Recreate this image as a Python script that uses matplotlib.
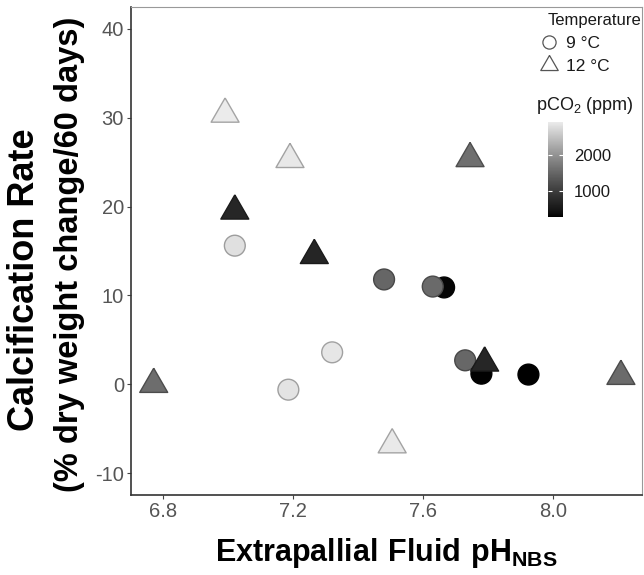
import numpy as np
import matplotlib
matplotlib.use("Agg")
import matplotlib.pyplot as plt
from matplotlib.colors import ListedColormap, Normalize
from matplotlib.lines import Line2D

plt.rcParams['font.family'] = ['Liberation Sans', 'DejaVu Sans']
plt.rcParams['mathtext.fontset'] = 'custom'
plt.rcParams['mathtext.rm'] = 'Liberation Sans'
plt.rcParams['mathtext.bf'] = 'Liberation Sans:bold'
plt.rcParams['axes.unicode_minus'] = False

# 9 C (circles)
ph9 = [7.02, 7.48, 7.665, 7.63, 7.32, 7.185, 7.73, 7.78, 7.925]
calc9 = [15.6, 11.8, 10.9, 11.0, 3.6, -0.6, 2.7, 1.2, 1.1]
pco2_9 = [2800, 1500, 330, 1550, 2850, 2820, 1520, 300, 286]

# 12 C (triangles)
ph12 = [6.99, 7.19, 7.02, 7.265, 7.745, 6.77, 7.505, 7.79, 8.21]
calc12 = [30.4, 25.3, 19.5, 14.5, 25.4, 0.0, -6.8, 2.4, 0.9]
pco2_12 = [2908, 2870, 720, 700, 1600, 1580, 2880, 710, 1560]

temp_labels = ["9 °C", "12 °C"]

# grey ramp, linear in lightness like ggplot's gradient
L = np.linspace(0, 93, 256)
Y = np.where(L > 8, ((L + 16) / 116) ** 3, L / 903.3)
g = np.where(Y <= 0.0031308, 12.92 * Y, 1.055 * Y ** (1 / 2.4) - 0.055)
cmap = ListedColormap(np.column_stack([g, g, g]))

allv = pco2_9 + pco2_12
norm = Normalize(vmin=min(allv), vmax=max(allv))

tri = [(0, 1), (-0.866, -0.5), (0.866, -0.5), (0, 1)]

def edges(vals):
    c = cmap(norm(np.array(vals)))
    c[:, :3] *= 0.7
    return c

fig = plt.figure(figsize=(6.44, 5.75), dpi=100)
ax = fig.add_axes([131 / 644, 80 / 575, 511 / 644, 488 / 575])

sc = ax.scatter(ph9, calc9, c=pco2_9, cmap=cmap, norm=norm, marker='o', s=225,
                edgecolors=edges(pco2_9), linewidths=1.0, zorder=3)
ax.scatter(ph12, calc12, c=pco2_12, cmap=cmap, norm=norm, marker=tri, s=540,
           edgecolors=edges(pco2_12), linewidths=1.0, zorder=4)

ax.set_xlim(6.70, 8.275)
ax.set_ylim(-12.45, 42.45)
ax.set_xticks([6.8, 7.2, 7.6, 8.0])
ax.set_xticklabels(["6.8", "7.2", "7.6", "8.0"])
ax.set_yticks([-10, 0, 10, 20, 30, 40])
ax.tick_params(labelsize=14.5, labelcolor='#555555', color='#444444', length=3, width=0.8, pad=2)

for s in ['left', 'bottom']:
    ax.spines[s].set_color('#333333')
    ax.spines[s].set_linewidth(1.2)
for s in ['top', 'right']:
    ax.spines[s].set_color('#999999')
    ax.spines[s].set_linewidth(0.8)

ax.set_xlabel(r'$\mathbf{Extrapallial\ Fluid\ pH_{NBS}}$', fontsize=22, labelpad=11)

fig.text(25 / 644, 1 - 280 / 575, "Calcification Rate", rotation=90, fontsize=26,
         fontweight='bold', ha='center', va='center')
fig.text(70 / 644, 1 - 254 / 575, "(% dry weight change/60 days)", rotation=90,
         fontsize=23.5, fontweight='bold', ha='center', va='center')

# temperature legend
fig.text(548 / 644, 1 - 21 / 575, "Temperature", fontsize=12, color='#1a1a1a',
         ha='left', va='center')
handles = [Line2D([], [], marker='o', linestyle='none', markerfacecolor='white',
                  markeredgecolor='#555555', markersize=9.5, markeredgewidth=0.9),
           Line2D([], [], marker=tri, linestyle='none', markerfacecolor='white',
                  markeredgecolor='#555555', markersize=14.5, markeredgewidth=0.9)]
leg = ax.legend(handles, temp_labels, loc='upper left',
                bbox_to_anchor=(539 / 644, 1 - 36 / 575), bbox_transform=fig.transFigure,
                frameon=False, fontsize=12.5, handlelength=1.2, handletextpad=0.35,
                labelspacing=0.42, borderpad=0, borderaxespad=0)
for t in leg.get_texts():
    t.set_color('#1a1a1a')

# pCO2 colour bar
cax = fig.add_axes([548 / 644, 1 - 217 / 575, 15 / 644, 95 / 575])
cb = fig.colorbar(sc, cax=cax, ticks=[1000, 2000])
cb.outline.set_visible(False)
cax.tick_params(direction='in', color='white', length=3, width=0.8, left=True,
                right=True, labelsize=12, labelcolor='#1a1a1a', pad=8)
fig.text(536 / 644, 1 - 105 / 575, r'pCO$_2$ (ppm)', fontsize=13, color='#1a1a1a',
         ha='left', va='center')

fig.savefig("out.png", dpi=100)
